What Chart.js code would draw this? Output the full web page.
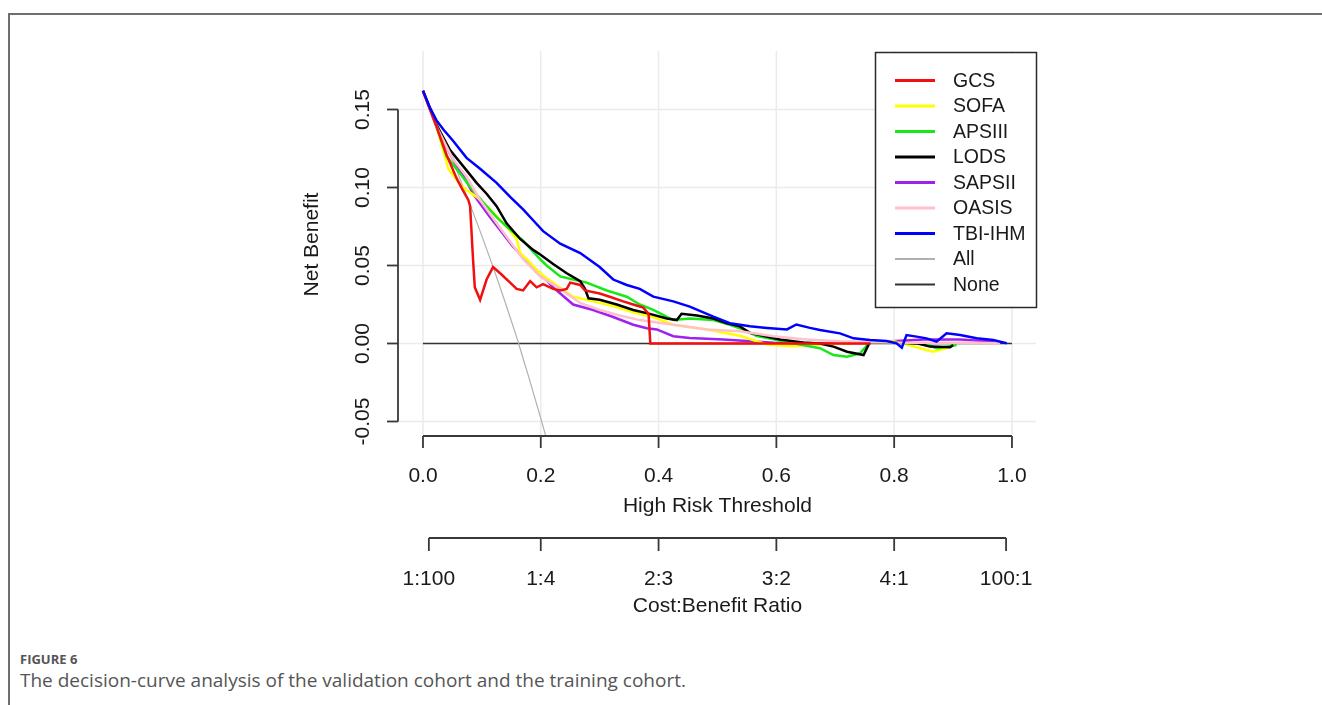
<!DOCTYPE html>
<html lang="en">
<head>
<meta charset="UTF-8" />
<title>Decision curve analysis</title>
<script src="https://cdn.jsdelivr.net/npm/chart.js"></script>
<style>
  body { margin: 0; background: #fff; width: 1322px; height: 705px; overflow: hidden; position: relative; }
  .frame { position: absolute; left: 8px; top: 13px; width: 1400px; height: 800px;
           border-top: 2px solid #6e6e6e; border-left: 2px solid #6e6e6e; }
  #chart { position: absolute; left: 0; top: 0; }
  .fig-label { position: absolute; left: 20px; top: 650px; font: 700 13px "Open Sans", sans-serif; color: #555; }
  .caption { position: absolute; left: 20px; top: 667px; font: 400 19px "Open Sans", sans-serif; color: #555; }
</style>
</head>
<body>
<div class="frame"></div>
<canvas id="chart" width="1322" height="620"></canvas>
<div class="fig-label">FIGURE 6</div>
<div class="caption">The decision-curve analysis of the validation cohort and the training cohort.</div>
<script>
// threshold / net benefit pairs
const gcs = [[0,0.162],[0.012,0.150],[0.023,0.139],[0.040,0.121],[0.057,0.106],[0.068,0.098],[0.077,0.092],[0.080,0.088],
  [0.085,0.054],[0.088,0.036],[0.097,0.028],[0.108,0.041],[0.119,0.049],[0.131,0.045],[0.148,0.039],[0.159,0.035],
  [0.170,0.034],[0.182,0.040],[0.193,0.036],[0.204,0.038],[0.221,0.035],[0.233,0.034],[0.244,0.035],[0.250,0.039],
  [0.267,0.0375],[0.275,0.034],[0.300,0.032],[0.317,0.030],[0.340,0.027],[0.357,0.025],[0.374,0.023],[0.383,0.019],
  [0.386,0.0],[0.760,0.0]];
const sofa = [[0,0.162],[0.023,0.139],[0.043,0.112],[0.057,0.105],[0.068,0.100],[0.091,0.094],[0.114,0.086],[0.142,0.075],
  [0.159,0.067],[0.165,0.058],[0.176,0.054],[0.199,0.045],[0.221,0.039],[0.255,0.030],[0.289,0.027],[0.323,0.024],
  [0.357,0.020],[0.391,0.017],[0.425,0.012],[0.482,0.009],[0.538,0.005],[0.584,-0.0006],[0.629,-0.0017],[0.674,-0.0006],
  [0.731,0.0004],[0.800,0.0015],[0.844,-0.003],[0.866,-0.0053],[0.889,-0.003],[0.900,-0.0014]];
const apsiii = [[0,0.162],[0.023,0.139],[0.040,0.120],[0.063,0.109],[0.080,0.1005],[0.108,0.088],[0.125,0.081],[0.142,0.075],
  [0.170,0.066],[0.199,0.054],[0.210,0.050],[0.233,0.043],[0.255,0.041],[0.278,0.039],[0.312,0.034],[0.346,0.030],
  [0.368,0.025],[0.391,0.0215],[0.425,0.015],[0.453,0.016],[0.493,0.015],[0.521,0.012],[0.538,0.0098],[0.567,0.0047],
  [0.612,0.0015],[0.640,-0.0006],[0.674,-0.003],[0.697,-0.0074],[0.720,-0.0085],[0.742,-0.0063],[0.759,0.001],
  [0.800,0.0005],[0.850,0.0],[0.872,-0.003],[0.906,-0.001]];
const lods = [[0,0.162],[0.023,0.140],[0.046,0.124],[0.074,0.111],[0.091,0.103],[0.108,0.096],[0.125,0.088],[0.142,0.077],
  [0.165,0.067],[0.187,0.060],[0.199,0.057],[0.221,0.051],[0.244,0.045],[0.267,0.040],[0.275,0.035],[0.281,0.029],
  [0.300,0.028],[0.329,0.025],[0.357,0.0215],[0.385,0.019],[0.414,0.016],[0.431,0.015],[0.439,0.019],[0.465,0.018],
  [0.493,0.016],[0.516,0.013],[0.538,0.011],[0.555,0.0068],[0.606,0.0026],[0.651,0.0004],[0.674,0.0],[0.697,-0.002],
  [0.720,-0.0053],[0.748,-0.0074],[0.759,0.0012],[0.800,0.0008],[0.840,0.0],[0.861,-0.002],[0.895,-0.0024],[0.900,-0.001]];
const sapsii = [[0,0.162],[0.023,0.139],[0.040,0.126],[0.051,0.118],[0.074,0.104],[0.085,0.096],[0.114,0.081],[0.153,0.062],
  [0.187,0.049],[0.199,0.045],[0.221,0.036],[0.255,0.025],[0.289,0.0215],[0.323,0.017],[0.357,0.012],[0.380,0.0098],
  [0.397,0.009],[0.425,0.0047],[0.453,0.0036],[0.510,0.0026],[0.595,0.0004],[0.700,0.0],[0.787,0.0012],[0.851,0.0026],
  [0.912,0.0026],[0.957,0.0015],[0.970,0.001]];
const oasis = [[0,0.162],[0.023,0.139],[0.051,0.118],[0.074,0.107],[0.097,0.092],[0.131,0.074],[0.170,0.054],[0.199,0.043],
  [0.233,0.035],[0.267,0.026],[0.300,0.0215],[0.334,0.018],[0.368,0.015],[0.425,0.012],[0.482,0.009],[0.538,0.0079],
  [0.595,0.0047],[0.651,0.0026],[0.708,0.0015],[0.821,0.0004],[0.940,0.0004],[0.980,0.0]];
const tbiIhm = [[0,0.162],[0.012,0.151],[0.023,0.143],[0.035,0.137],[0.051,0.130],[0.074,0.119],[0.097,0.112],[0.125,0.103],
  [0.148,0.094],[0.170,0.086],[0.187,0.079],[0.204,0.072],[0.233,0.064],[0.267,0.058],[0.300,0.049],[0.323,0.041],
  [0.346,0.0375],[0.368,0.035],[0.391,0.030],[0.425,0.027],[0.453,0.0236],[0.493,0.0172],[0.521,0.013],[0.538,0.012],
  [0.555,0.011],[0.584,0.010],[0.618,0.009],[0.634,0.0122],[0.657,0.010],[0.674,0.0087],[0.708,0.0065],[0.731,0.0033],
  [0.759,0.0022],[0.787,0.0016],[0.804,0.0001],[0.813,-0.0027],[0.821,0.0054],[0.838,0.0044],[0.855,0.0033],
  [0.872,0.0012],[0.889,0.0065],[0.912,0.0054],[0.940,0.0033],[0.968,0.0022],[0.991,0.0001]];
const treatAll = [[0,0.162],[0.023,0.142],[0.046,0.122],[0.080,0.089],[0.100,0.069],[0.120,0.048],[0.140,0.026],
  [0.160,0.003],[0.170,-0.0096],[0.180,-0.022],[0.190,-0.035],[0.200,-0.048],[0.212,-0.064]];
const treatNone = [[0,0],[1,0]];

const seriesNames = ["GCS", "SOFA", "APSIII", "LODS", "SAPSII", "OASIS", "TBI-IHM", "All", "None"];
const seriesData = [gcs, sofa, apsiii, lods, sapsii, oasis, tbiIhm, treatAll, treatNone];
const seriesColors = ["#f01010", "#ffff00", "#18e818", "#000000", "#a020f0", "#ffc0cb", "#0000ff", "#b0b0b0", "#333333"];
const seriesWidths = [2.5, 2.5, 2.5, 2.5, 2.5, 2.5, 2.5, 1.2, 1.5];
const drawOrder = [2, 6, 5, 4, 7, 3, 1, 8, 9]; // lower = on top

const xTicks = [0, 0.2, 0.4, 0.6, 0.8, 1.0];
const xTickLabels = ["0.0", "0.2", "0.4", "0.6", "0.8", "1.0"];
const yTicks = [-0.05, 0, 0.05, 0.10, 0.15];
const yTickLabels = ["-0.05", "0.00", "0.05", "0.10", "0.15"];
const ratioTicks = [0.01, 0.2, 0.4, 0.6, 0.8, 0.99];
const ratioLabels = ["1:100", "1:4", "2:3", "3:2", "4:1", "100:1"];

const AXIS_FONT = '21px "Liberation Sans", Arial, sans-serif';
const LEGEND_FONT = '19.5px "Liberation Sans", Arial, sans-serif';
const INK = "#1a1a1a";

function seg(ctx, x1, y1, x2, y2) {
  ctx.beginPath(); ctx.moveTo(x1, y1); ctx.lineTo(x2, y2); ctx.stroke();
}

// R style: gridlines, detached bracket axes, second cost:benefit axis, boxed legend
const rStyle = {
  id: "rStyle",
  beforeDatasetsDraw(chart) {
    const { ctx, chartArea: a, scales: { x, y } } = chart;
    ctx.save();
    ctx.strokeStyle = "#ebebeb";
    ctx.lineWidth = 1.5;
    xTicks.forEach(v => { const p = x.getPixelForValue(v); seg(ctx, p, a.top, p, a.bottom); });
    yTicks.forEach(v => { const p = y.getPixelForValue(v); seg(ctx, a.left, p, a.right, p); });
    ctx.restore();
  },
  afterDatasetsDraw(chart) {
    const { ctx, chartArea: a, scales: { x, y } } = chart;
    ctx.save();
    ctx.strokeStyle = "#383838";
    ctx.lineWidth = 1.8;
    ctx.fillStyle = INK;
    ctx.font = AXIS_FONT;
    ctx.textAlign = "center";
    ctx.textBaseline = "middle";

    // y axis
    const yTop = y.getPixelForValue(yTicks[yTicks.length - 1]);
    const yBot = y.getPixelForValue(yTicks[0]);
    seg(ctx, a.left, yTop, a.left, yBot);
    yTicks.forEach((v, i) => {
      const p = y.getPixelForValue(v);
      seg(ctx, a.left - 11, p, a.left, p);
      ctx.save();
      ctx.translate(363, p);
      ctx.rotate(-Math.PI / 2);
      ctx.fillText(yTickLabels[i], 0, 0);
      ctx.restore();
    });
    ctx.save();
    ctx.translate(312, (a.top + a.bottom) / 2 + 1);
    ctx.rotate(-Math.PI / 2);
    ctx.fillText("Net Benefit", 0, 0);
    ctx.restore();

    // threshold axis
    const ax1 = 436;
    seg(ctx, x.getPixelForValue(xTicks[0]), ax1, x.getPixelForValue(xTicks[xTicks.length - 1]), ax1);
    xTicks.forEach((v, i) => {
      const p = x.getPixelForValue(v);
      seg(ctx, p, ax1, p, ax1 + 12);
      ctx.fillText(xTickLabels[i], p, 476);
    });
    ctx.fillText("High Risk Threshold", (x.getPixelForValue(0) + x.getPixelForValue(1)) / 2, 506);

    // cost:benefit axis
    const ax2 = 538;
    seg(ctx, x.getPixelForValue(ratioTicks[0]), ax2, x.getPixelForValue(ratioTicks[ratioTicks.length - 1]), ax2);
    ratioTicks.forEach((v, i) => {
      const p = x.getPixelForValue(v);
      seg(ctx, p, ax2, p, ax2 + 13);
      ctx.fillText(ratioLabels[i], p, 579);
    });
    ctx.fillText("Cost:Benefit Ratio", (x.getPixelForValue(0) + x.getPixelForValue(1)) / 2, 606);

    // legend
    const bx = 875.5, by = 52.5, bw = 161, bh = 255;
    ctx.fillStyle = "#fff";
    ctx.fillRect(bx, by, bw, bh);
    ctx.strokeStyle = "#2a2a2a";
    ctx.lineWidth = 1.5;
    ctx.strokeRect(bx, by, bw, bh);
    ctx.font = LEGEND_FONT;
    ctx.textAlign = "left";
    chart.data.datasets.forEach((ds, i) => {
      const ry = 80.5 + i * 25.5;
      ctx.strokeStyle = ds.borderColor;
      ctx.lineWidth = i < 7 ? 3 : 1.8;
      seg(ctx, 895, ry, 935, ry);
      ctx.fillStyle = INK;
      ctx.fillText(ds.label, 953, ry + 1);
    });
    ctx.restore();
  }
};

const datasets = seriesNames.map((name, i) => ({
  label: name,
  data: seriesData[i].map(([t, nb]) => ({ x: t, y: nb })),
  borderColor: seriesColors[i],
  borderWidth: seriesWidths[i],
  order: drawOrder[i],
  pointRadius: 0,
  tension: 0,
  fill: false
}));

new Chart(document.getElementById("chart"), {
  type: "line",
  data: { datasets },
  options: {
    responsive: false,
    animation: false,
    layout: { padding: { left: 398, top: 51, right: 286, bottom: 184 } },
    scales: {
      x: { type: "linear", min: -0.0424, max: 1.0408, display: false },
      y: { type: "linear", min: -0.0593, max: 0.1875, display: false }
    },
    plugins: { legend: { display: false }, tooltip: { enabled: false } }
  },
  plugins: [rStyle]
});
</script>
</body>
</html>
